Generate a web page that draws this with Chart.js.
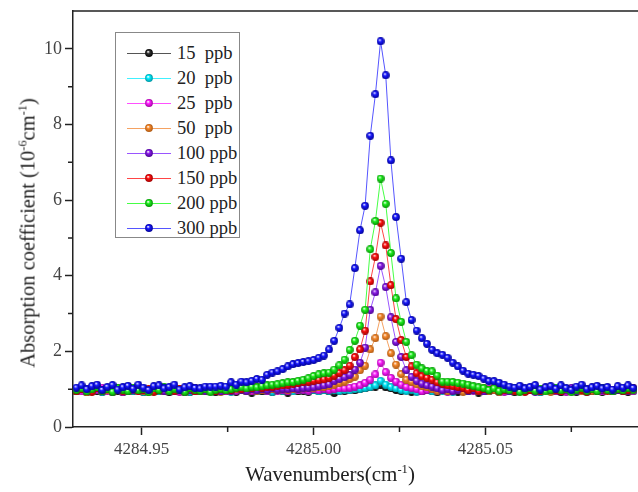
<!DOCTYPE html>
<html>
<head>
<meta charset="utf-8">
<script src="https://cdn.jsdelivr.net/npm/chart.js@4.4.1/dist/chart.umd.min.js"></script>
<style>
  html, body { margin: 0; padding: 0; background: #fff; }
  #wrap { position: relative; width: 638px; height: 492px; font-family: "Liberation Serif", "DejaVu Serif", serif; color: #222; }
  #chart { position: absolute; left: 0; top: 0; }
  .ytitle { position: absolute; left: 28px; top: 233px; transform: translate(-50%, -50%) rotate(-90deg); white-space: nowrap; font-size: 20.5px; }
  .xtitle { position: absolute; left: 330px; top: 474px; transform: translate(-50%, -50%); white-space: nowrap; font-size: 21px; }
  sup { font-size: 0.6em; line-height: 0; }
  #legend { position: absolute; left: 115px; top: 32px; width: 123px; height: 204px; border: 1px solid #888; background: #fff; }
  .row { position: absolute; left: 0; height: 20px; width: 123px; }
  .row .ln { position: absolute; left: 11px; width: 44px; top: 10px; height: 1px; }
  .row canvas { position: absolute; left: 29px; top: 6px; }
  .row span { position: absolute; left: 61px; top: 0; font-size: 18.5px; line-height: 20px; white-space: pre; color: #222; }
  #warn { position: absolute; left: 300px; top: 100px; color: red; font: 14px sans-serif; }
</style>
</head>
<body>
<div id="wrap">
  <canvas id="chart" width="638" height="492"></canvas>
  <div class="ytitle">Absorption coefficient (10<sup>-6</sup>cm<sup>-1</sup>)</div>
  <div class="xtitle">Wavenumbers(cm<sup>-1</sup>)</div>
  <div id="legend"></div>
  <div id="warn"></div>
</div>
<script>
// wavenumber grid (cm-1), shared by all concentrations
const wavenumber = [
  4284.9310,4284.9325,4284.9340,4284.9355,4284.9370,4284.9385,4284.9400,4284.9415,4284.9430,4284.9445,
  4284.9460,4284.9475,4284.9490,4284.9505,4284.9520,4284.9535,4284.9550,4284.9565,4284.9580,4284.9595,
  4284.9610,4284.9625,4284.9640,4284.9655,4284.9670,4284.9685,4284.9700,4284.9715,4284.9730,4284.9745,
  4284.9760,4284.9775,4284.9790,4284.9805,4284.9820,4284.9835,4284.9850,4284.9865,4284.9880,4284.9895,
  4284.9910,4284.9925,4284.9940,4284.9955,4284.9970,4284.9985,4285.0000,4285.0015,4285.0030,4285.0045,
  4285.0060,4285.0075,4285.0090,4285.0105,4285.0120,4285.0135,4285.0150,4285.0165,4285.0180,4285.0195,
  4285.0210,4285.0225,4285.0240,4285.0255,4285.0270,4285.0285,4285.0300,4285.0315,4285.0330,4285.0345,
  4285.0360,4285.0375,4285.0390,4285.0405,4285.0420,4285.0435,4285.0450,4285.0465,4285.0480,4285.0495,
  4285.0510,4285.0525,4285.0540,4285.0555,4285.0570,4285.0585,4285.0600,4285.0615,4285.0630,4285.0645,
  4285.0660,4285.0675,4285.0690,4285.0705,4285.0720,4285.0735,4285.0750,4285.0765,4285.0780,4285.0795,
  4285.0810,4285.0825,4285.0840,4285.0855,4285.0870,4285.0885,4285.0900,4285.0915,4285.0930
];

const labels = ["15  ppb", "20  ppb", "25  ppb", "50  ppb", "100 ppb", "150 ppb", "200 ppb", "300 ppb"];

// absorption coefficient, 10^-6 cm^-1
const ppb15 = [
  0.94,0.97,0.92,0.98,0.95,0.93,0.99,0.94,0.96,0.92,
  0.98,0.95,0.97,0.93,0.96,0.99,0.94,0.97,0.92,0.98,
  0.95,0.96,0.93,0.97,0.94,0.98,0.95,0.92,0.97,0.94,
  0.96,0.93,0.98,0.95,0.91,0.97,0.94,0.96,0.93,0.98,
  0.95,0.91,0.97,0.94,0.96,0.93,0.98,0.95,0.97,0.94,
  0.90,0.96,0.95,0.98,0.97,1.00,1.02,1.05,1.07,1.10,
  1.05,1.02,0.98,0.95,0.97,0.93,0.96,0.94,0.98,0.95,
  0.92,0.97,0.94,0.96,0.93,0.98,0.95,0.97,0.91,0.96,
  0.94,0.98,0.93,0.97,0.95,0.92,0.96,0.94,0.98,0.95,
  0.93,0.97,0.94,0.96,0.92,0.98,0.95,0.93,0.97,0.94,
  0.96,0.95,0.93,0.97,0.94,0.98,0.95,0.93,0.96
];
const ppb20 = [
  0.96,0.99,0.94,1.00,0.97,0.93,1.01,0.95,0.98,0.94,
  1.00,0.96,0.99,0.93,0.97,1.01,0.95,0.98,0.94,0.99,
  0.96,1.00,0.93,0.97,0.95,0.99,0.94,1.00,0.96,0.98,
  0.93,0.97,1.00,0.95,0.98,0.94,0.99,0.96,0.93,0.98,
  0.95,1.00,0.94,0.97,0.99,0.95,0.98,0.94,0.97,0.96,
  0.99,0.95,0.98,0.97,1.00,1.01,1.03,1.06,1.10,1.22,
  1.12,1.06,1.02,0.98,0.95,0.99,0.93,0.97,1.00,0.94,
  0.98,0.96,0.99,0.93,0.97,1.00,0.95,0.98,0.94,0.99,
  0.96,1.00,0.93,0.97,0.95,0.99,0.94,0.98,1.00,0.96,
  0.93,0.98,0.95,0.99,0.97,0.94,1.00,0.96,0.98,0.93,
  0.97,0.99,0.95,0.98,0.94,1.00,0.96,0.97,0.95
];
const ppb25 = [
  0.98,0.94,1.01,0.96,0.99,1.03,0.95,0.98,1.00,0.93,
  0.97,1.02,0.96,0.99,0.94,1.01,0.97,0.95,1.00,0.98,
  0.93,0.99,1.02,0.96,0.98,0.94,1.01,0.97,0.99,0.95,
  1.00,0.96,0.98,1.02,0.94,0.97,0.99,0.95,1.00,0.96,
  0.98,0.94,1.01,0.97,0.99,0.96,1.00,0.97,1.01,0.98,
  1.00,1.02,1.02,1.04,1.07,1.10,1.17,1.25,1.39,1.70,
  1.45,1.30,1.20,1.12,1.06,1.03,1.00,0.94,0.98,1.01,
  0.96,0.99,0.93,1.00,0.97,0.95,1.02,0.96,0.98,0.94,
  1.01,0.97,0.99,0.93,1.00,0.96,1.02,0.95,0.98,0.94,
  1.01,0.97,0.99,0.96,1.00,0.93,0.98,1.02,0.95,0.99,
  0.97,1.01,0.94,0.98,0.96,1.00,0.97,0.99,0.95
];
const ppb50 = [
  0.96,1.00,0.93,0.98,1.02,0.95,0.99,0.92,0.97,1.01,
  0.94,0.98,1.03,0.96,0.93,1.00,0.97,0.94,1.01,0.95,
  0.99,0.92,0.98,1.02,0.96,0.94,1.00,0.97,0.93,0.99,
  0.95,1.01,0.98,0.94,1.00,0.96,0.99,0.97,1.01,0.98,
  1.00,0.99,1.01,1.00,1.02,1.02,1.03,1.05,1.06,1.08,
  1.12,1.16,1.20,1.27,1.33,1.50,1.62,2.05,2.35,2.92,
  2.40,1.95,1.65,1.40,1.25,1.19,1.13,1.08,1.05,1.00,
  0.96,0.99,0.94,1.01,0.97,0.93,1.00,0.98,0.95,1.02,
  0.96,0.99,0.93,1.01,0.97,0.95,1.00,0.94,0.98,1.02,
  0.96,0.99,0.93,1.00,0.97,1.01,0.95,0.98,0.94,1.00,
  0.96,1.02,0.97,0.99,0.95,1.01,0.98,0.94,1.00
];
const ppb100 = [
  0.97,1.01,0.94,0.99,1.03,0.96,1.00,0.93,0.98,1.02,
  0.95,0.99,1.04,0.97,0.94,1.01,0.98,0.95,1.02,0.96,
  1.00,0.93,0.99,1.03,0.97,0.95,1.01,0.98,0.94,1.00,
  0.96,1.02,0.99,0.95,1.01,0.97,1.00,0.98,1.02,0.99,
  1.01,1.00,1.02,1.01,1.03,1.04,1.05,1.08,1.10,1.13,
  1.22,1.27,1.32,1.38,1.52,1.70,2.10,3.10,3.56,4.26,
  3.70,2.90,2.25,1.85,1.50,1.33,1.22,1.15,1.10,1.07,
  1.02,0.97,1.00,0.95,0.99,1.03,0.96,0.98,1.01,0.94,
  0.99,1.02,0.97,1.00,0.95,1.03,0.98,0.96,1.01,0.93,
  0.99,1.02,0.97,1.00,0.95,0.98,1.03,0.96,1.00,0.94,
  1.01,0.97,0.99,1.02,0.95,0.98,1.00,0.96,1.01
];
const ppb150 = [
  0.95,1.01,0.98,0.93,1.03,0.97,1.00,0.94,1.02,0.96,
  0.99,1.04,0.95,0.98,1.01,0.93,0.97,1.02,0.99,0.95,
  1.00,0.96,1.03,0.94,0.98,1.01,0.97,0.95,1.00,0.98,
  0.98,1.02,1.00,1.03,1.02,1.05,1.04,1.07,1.06,1.09,
  1.10,1.12,1.15,1.17,1.19,1.20,1.22,1.24,1.26,1.30,
  1.36,1.43,1.50,1.62,1.85,2.05,2.55,3.85,4.50,5.40,
  4.80,3.75,2.85,2.30,1.85,1.60,1.42,1.34,1.30,1.25,
  1.18,1.14,1.10,1.08,1.06,1.04,0.98,1.02,0.95,1.00,
  0.97,1.03,0.94,0.99,1.01,0.96,1.02,0.93,0.98,1.00,
  0.95,1.03,0.97,0.99,0.94,1.01,0.96,1.02,0.98,0.93,
  1.00,0.97,1.03,0.95,0.99,1.01,0.96,0.98,1.02
];
const ppb200 = [
  0.98,1.02,0.94,1.00,1.05,0.96,1.01,0.93,1.03,0.99,
  0.95,1.04,0.97,1.00,0.92,1.02,0.98,1.05,0.95,1.01,
  0.97,0.93,1.03,0.99,0.96,1.00,0.92,0.98,1.01,0.97,
  1.00,1.03,1.05,1.02,1.06,1.05,1.08,1.10,1.12,1.13,
  1.16,1.18,1.19,1.22,1.25,1.29,1.35,1.39,1.42,1.44,
  1.52,1.63,1.78,2.04,2.28,2.68,3.10,4.70,5.45,6.57,
  5.90,4.60,3.40,2.78,2.25,1.90,1.65,1.55,1.48,1.47,
  1.36,1.20,1.20,1.19,1.17,1.15,1.12,1.08,1.05,1.03,
  0.98,1.02,0.95,1.00,0.97,1.03,0.93,0.99,1.02,0.96,
  1.01,0.94,0.98,1.03,0.97,1.00,0.92,0.99,1.04,0.96,
  1.00,0.95,1.02,0.98,0.94,1.01,0.97,1.03,0.99
];
const ppb300 = [
  1.04,1.10,1.00,1.08,1.12,0.98,1.06,1.11,0.99,1.05,
  1.09,1.01,1.12,1.04,0.98,1.08,1.10,1.02,1.06,1.12,
  0.99,1.05,1.08,1.03,1.02,1.07,1.07,1.07,1.09,1.07,
  1.18,1.12,1.20,1.18,1.22,1.27,1.25,1.38,1.44,1.47,
  1.53,1.60,1.66,1.69,1.72,1.74,1.77,1.83,1.89,2.05,
  2.28,2.62,3.00,3.24,4.20,5.20,5.85,7.70,8.80,10.20,
  9.30,7.05,5.55,4.45,3.30,2.83,2.55,2.35,2.20,2.04,
  1.95,1.91,1.83,1.70,1.60,1.49,1.41,1.38,1.35,1.28,
  1.21,1.21,1.17,1.12,1.07,1.04,1.09,1.02,1.06,1.11,
  0.99,1.05,1.08,1.01,1.10,1.03,0.98,1.07,1.12,1.00,
  1.05,1.09,1.02,1.06,0.99,1.08,1.04,1.10,1.03
];

const series = [ppb15, ppb20, ppb25, ppb50, ppb100, ppb150, ppb200, ppb300];

// axis ticks
const xMajor = [4284.95, 4285.00, 4285.05];
const xMinor = [4284.975, 4285.025, 4285.075];
const yMajor = [0, 2, 4, 6, 8, 10];
const yMinor = [1, 3, 5, 7, 9];

// styles: line colour, ball colour, ball shadow
const lineColors = ["#555555", "#40f0ff", "#ff50ff", "#f5a262", "#9a55ff", "#ff4545", "#45ff45", "#5555ff"];
const ballColors = ["#333333", "#00eeff", "#ff20ff", "#f7892c", "#8a1ce8", "#ff1010", "#20f020", "#1818ff"];
const ballDark   = ["#000000", "#008f9c", "#9a009a", "#a85510", "#45008c", "#990000", "#008800", "#000090"];

const bad = series.map((s, i) => s.length !== wavenumber.length ? labels[i] + ":" + s.length : null).filter(Boolean);
if (bad.length) document.getElementById("warn").textContent = "length mismatch " + bad.join(", ");

function ball(color, dark) {
  const c = document.createElement("canvas");
  c.width = 8; c.height = 8;
  const g = c.getContext("2d");
  const grad = g.createRadialGradient(3, 2.6, 0.2, 4, 4, 4.2);
  grad.addColorStop(0, "#ffffff");
  grad.addColorStop(0.35, color);
  grad.addColorStop(1, dark);
  g.fillStyle = grad;
  g.beginPath();
  g.arc(4, 4, 3.9, 0, Math.PI * 2);
  g.fill();
  return c;
}

// html legend
const legend = document.getElementById("legend");
labels.forEach((lab, i) => {
  const row = document.createElement("div");
  row.className = "row";
  row.style.top = (10 + i * 25) + "px";
  const ln = document.createElement("div");
  ln.className = "ln";
  ln.style.background = lineColors[i];
  row.appendChild(ln);
  row.appendChild(ball(ballColors[i], ballDark[i]));
  const t = document.createElement("span");
  t.textContent = lab;
  row.appendChild(t);
  legend.appendChild(row);
});

const datasets = series.map((s, i) => ({
  label: labels[i],
  data: s.map((v, k) => ({ x: wavenumber[k], y: v })),
  borderColor: lineColors[i],
  borderWidth: 1,
  pointStyle: ball(ballColors[i], ballDark[i]),
  pointRadius: 4,
  tension: 0,
  order: series.length - 1 - i,
}));

const frame = {
  id: "frame",
  afterDraw(chart) {
    const { ctx, chartArea: a, scales: { x, y } } = chart;
    ctx.save();
    ctx.strokeStyle = "#222";
    ctx.lineWidth = 1.5;
    ctx.beginPath();
    ctx.moveTo(a.left, a.top);
    ctx.lineTo(a.right, a.top);
    xMinor.forEach((v) => {
      const p = x.getPixelForValue(v);
      ctx.moveTo(p, a.bottom);
      ctx.lineTo(p, a.bottom + 5);
    });
    yMinor.forEach((v) => {
      const p = y.getPixelForValue(v);
      ctx.moveTo(a.left, p);
      ctx.lineTo(a.left - 5, p);
    });
    ctx.stroke();
    ctx.restore();
  },
};

const tickFont = { family: "Liberation Serif", size: 17 };

new Chart(document.getElementById("chart"), {
  type: "line",
  data: { datasets },
  options: {
    responsive: false,
    animation: false,
    events: [],
    layout: { autoPadding: false, padding: { top: 11, right: 0, left: 0, bottom: 0 } },
    plugins: { legend: { display: false }, tooltip: { enabled: false } },
    scales: {
      x: {
        type: "linear",
        min: 4284.93,
        max: 4285.0944,
        afterFit: (s) => { s.height = 65; s.paddingLeft = 0; s.paddingRight = 0; },
        afterBuildTicks: (s) => { s.ticks = xMajor.map((v) => ({ value: v })); },
        ticks: {
          font: tickFont,
          color: "#444",
          padding: 4,
          maxRotation: 0,
          callback: (v) => Number(v).toFixed(2),
        },
        grid: { drawOnChartArea: false, drawTicks: true, tickLength: 8, tickColor: "#222", tickWidth: 1.5 },
        border: { display: true, color: "#222", width: 1.5 },
      },
      y: {
        min: 0,
        max: 11,
        afterFit: (s) => { s.width = 73; s.paddingTop = 0; s.paddingBottom = 0; },
        afterBuildTicks: (s) => { s.ticks = yMajor.map((v) => ({ value: v })); },
        ticks: { font: { family: "Liberation Serif", size: 18 }, color: "#444", padding: 3 },
        grid: { drawOnChartArea: false, drawTicks: true, tickLength: 8, tickColor: "#222", tickWidth: 1.5 },
        border: { display: true, color: "#222", width: 1.5 },
      },
    },
  },
  plugins: [frame],
});
</script>
</body>
</html>
